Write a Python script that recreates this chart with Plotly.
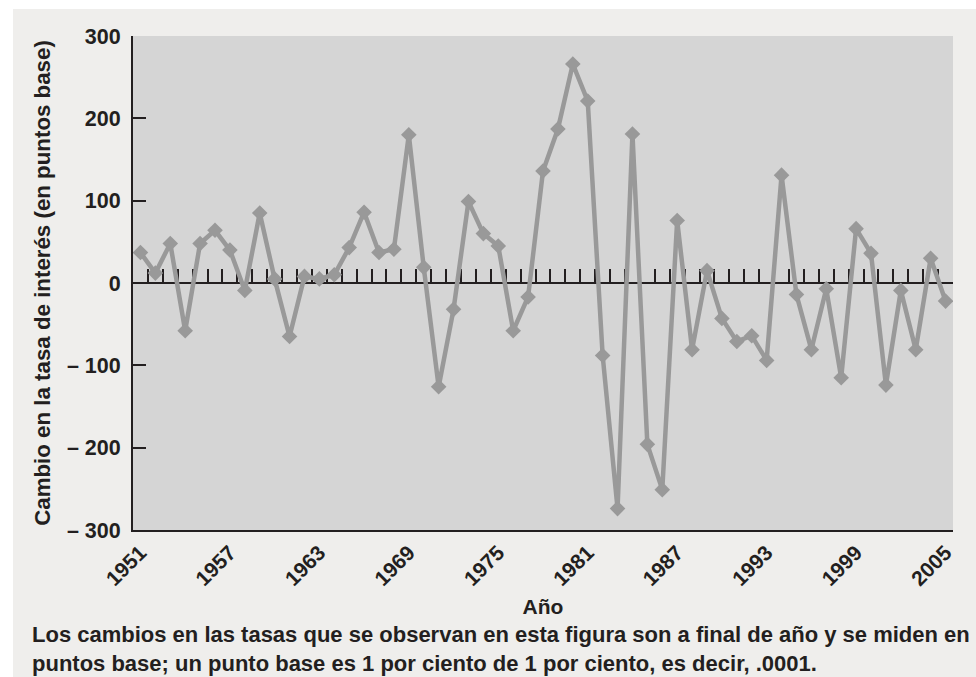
import plotly.graph_objects as go

# Year-end change in interest rates, in basis points
years = list(range(1951, 2006))
changes = [
    37, 12, 48, -58, 48, 64, 40, -9, 85, 5,
    -65, 8, 5, 10, 43, 86, 37, 41, 180, 19,
    -126, -32, 99, 60, 45, -58, -17, 136, 187, 266,
    221, -88, -274, 181, -196, -251, 76, -81, 15, -43,
    -71, -64, -94, 131, -14, -81, -7, -115, 66, 36,
    -124, -9, -81, 30, -22,
]

label_years = [1951, 1957, 1963, 1969, 1975, 1981, 1987, 1993, 1999, 2005]
y_ticks = [300, 200, 100, 0, -100, -200, -300]
y_tick_text = ["300", "200", "100", "0", "\u2013 100", "\u2013 200", "\u2013 300"]
year_bounds = [y + 0.5 for y in range(1950, 2006)]

ink = "#231f20"
series_grey = "#999999"
font_family = "Liberation Sans, Arial, sans-serif"
x_range = [1950.5, 2005.5]


def bold(size):
    return dict(family=font_family, size=size, color=ink, weight="bold")


fig = go.Figure()
# empty trace so the zero-line axis (x2) gets its own subplot and is drawn
fig.add_trace(go.Scatter(x=[], y=[], xaxis="x2", yaxis="y", showlegend=False,
                         hoverinfo="skip"))
fig.add_trace(go.Scatter(
    x=years, y=changes, mode="lines+markers",
    line=dict(color=series_grey, width=4.5),
    marker=dict(symbol="diamond", size=12, color=series_grey),
    xaxis="x", yaxis="y", showlegend=False, hoverinfo="x+y",
))

fig.update_layout(
    width=976, height=677, autosize=False,
    margin=dict(l=133, r=23, t=36, b=147),
    paper_bgcolor="#efeeec",
    plot_bgcolor="#d5d5d5",
    font=bold(21),
    xaxis=dict(
        range=x_range, showgrid=False, zeroline=False,
        showline=True, linecolor=ink, linewidth=2,
        tickmode="array", tickvals=label_years,
        ticktext=[str(y) for y in label_years],
        ticks="", tickangle=-45,
        tickfont=bold(21),
        title=dict(text="Año", standoff=10, font=bold(21)),
    ),
    # zero line with a tick between every pair of years
    xaxis2=dict(
        range=x_range, overlaying="x", anchor="free", position=0.5, side="bottom",
        showgrid=False, zeroline=False,
        showline=True, linecolor=ink, linewidth=2,
        tickmode="array", tickvals=year_bounds,
        ticks="inside", ticklen=13, tickwidth=2, tickcolor=ink,
        showticklabels=False, layer="below traces",
    ),
    yaxis=dict(
        range=[-300, 300], showgrid=False, zeroline=False,
        showline=True, linecolor=ink, linewidth=2,
        tickmode="array", tickvals=y_ticks, ticktext=y_tick_text,
        ticks="inside", ticklen=13, tickwidth=2, tickcolor=ink,
        ticklabelstandoff=6,
        tickfont=bold(21.5),
        title=dict(text="Cambio en la tasa de interés (en puntos base)", standoff=10,
                   font=bold(22.3)),
    ),
    shapes=[
        # white margin strips around the light panel
        dict(type="rect", xref="paper", yref="paper", x0=-0.2, x1=-0.1463, y0=-0.4, y1=1.2,
             fillcolor="white", line=dict(width=0), layer="below"),
        dict(type="rect", xref="paper", yref="paper", x0=-0.2, x1=1.1, y0=1.0547, y1=1.2,
             fillcolor="white", line=dict(width=0), layer="below"),
    ],
    annotations=[
        dict(
            text=("Los cambios en las tasas que se observan en esta figura son a final de año y se miden en"
                  "<br>puntos base; un punto base es 1 por ciento de 1 por ciento, es decir, .0001."),
            xref="paper", yref="paper", x=-0.1256, y=-0.182,
            xanchor="left", yanchor="top", align="left", showarrow=False,
            font=bold(22),
        ),
    ],
)

fig.write_html("out.html")
